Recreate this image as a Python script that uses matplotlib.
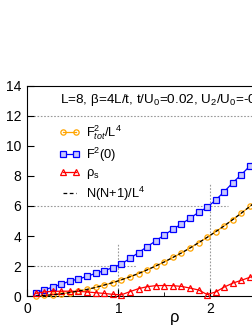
import numpy as np
import matplotlib
matplotlib.use("Agg")
import matplotlib.pyplot as plt

plt.rcParams['font.family'] = ['Liberation Sans', 'DejaVu Sans']
plt.rcParams['mathtext.fontset'] = 'custom'
plt.rcParams['mathtext.rm'] = 'Liberation Sans'
plt.rcParams['mathtext.it'] = 'Liberation Sans:italic'

# particle numbers on the 8x8 lattice, rho = N / L^2
n_particles = [6, 12, 18, 24, 30, 36, 42, 48, 54, 60, 66, 72, 78, 84, 90,
               96, 102, 108, 114, 120, 126, 132, 138, 144, 150, 156, 162]
L = 8
rho = np.array(n_particles) / L**2

f_tot = [0.01, 0.04, 0.08, 0.15, 0.23, 0.33, 0.44, 0.57, 0.73, 0.89, 1.08, 1.28,
         1.50, 1.74, 2.00, 2.27, 2.57, 2.87, 3.20, 3.55, 3.91, 4.29, 4.68, 5.10,
         5.53, 5.98, 6.45]
f_zero = [0.22, 0.40, 0.60, 0.78, 1.00, 1.13, 1.31, 1.51, 1.69, 1.89, 2.13, 2.51,
          2.89, 3.29, 3.67, 4.07, 4.44, 4.80, 5.18, 5.58, 5.91, 6.40, 6.96, 7.56,
          8.10, 8.68, 9.30]
rho_s = [0.17, 0.27, 0.31, 0.32, 0.32, 0.31, 0.27, 0.22, 0.17, 0.11, 0.08, 0.29,
         0.49, 0.62, 0.69, 0.70, 0.69, 0.64, 0.53, 0.40, 0.10, 0.27, 0.60, 0.86,
         1.05, 1.25, 1.40]
n_theory = [0.01, 0.04, 0.08, 0.15, 0.23, 0.33, 0.44, 0.57, 0.73, 0.89, 1.08, 1.28,
            1.50, 1.74, 2.00, 2.27, 2.57, 2.87, 3.20, 3.55, 3.91, 4.29, 4.68, 5.10,
            5.53, 5.98, 6.45]

fig = plt.figure(figsize=(2.53, 3.27), dpi=100)
ax = fig.add_axes([27 / 253, 1 - 296 / 327, 274.5 / 253, 210 / 327])

# guide lines
gl = dict(color='#999999', lw=0.8, ls=(0, (1.5, 1.5)), zorder=1)
ax.axhline(12, **gl)
ax.plot([0, 1.2], [2, 2], **gl)
ax.plot([0, 2.2], [6, 6], **gl)
ax.plot([1, 1], [0, 3.55], **gl)
ax.plot([2, 2], [0, 7.55], **gl)

ms = 3.8
ax.plot(rho, f_tot, '-o', color='#ffa500', mfc='none', ms=ms, mew=0.9, lw=0.9,
        label=r'F$^2_{tot}$/L$^4$', clip_on=False, zorder=3)
ax.plot(rho, f_zero, '-s', color='#0000ff', mfc='#c8c8ff', ms=ms, mew=0.9, lw=0.9,
        label=r'F$^2$(0)', zorder=3)
ax.plot(rho, rho_s, '-^', color='#ff0000', mfc='none', ms=ms, mew=0.9, lw=0.9,
        label=r'ρ$_\mathrm{s}$', clip_on=False, zorder=3)
ax.plot(rho, n_theory, '--', color='black', lw=0.9, dashes=(3, 2),
        label=r'N(N+1)/L$^4$', zorder=4)

ax.set_xlim(0, 3)
ax.set_ylim(0, 14)
ax.set_yticks(range(0, 15, 2))
ax.set_xticks([0, 1, 2, 3])
ax.set_xticklabels(['0', '1', '2', ''])
ax.set_xticks([0.5, 1.5, 2.5], minor=True)
ax.tick_params(direction='in', length=5, labelsize=10, pad=4)
ax.tick_params(which='minor', direction='in', length=3)
ax.set_xlabel('ρ', fontsize=12)
ax.xaxis.set_label_coords(148 / 274.5, -0.065)

ax.text(0.36, 13.05, r'L=8, β=4L/t, t/U$_0$=0.02, U$_2$/U$_0$=-0.1',
        fontsize=9.7, va='center', ha='left')

ax.legend(loc='upper left', bbox_to_anchor=(0.1, 0.845), frameon=False,
          fontsize=9.3, handlelength=1.6, handletextpad=0.45, labelspacing=0.25,
          borderaxespad=0, numpoints=2)

fig.savefig('out.png', dpi=100)
